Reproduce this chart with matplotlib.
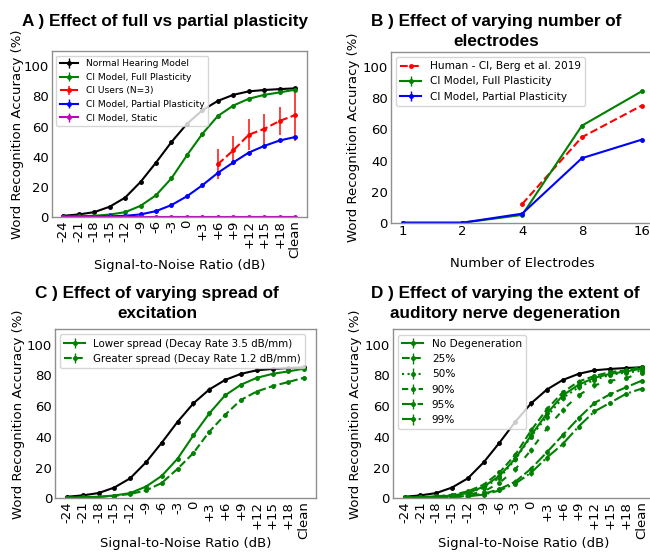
import numpy as np
import matplotlib
matplotlib.use("Agg")
import matplotlib.pyplot as plt

# SNR conditions used in panels A, C, D
snr_labels = ["-24", "-21", "-18", "-15", "-12", "-9", "-6", "-3", "0",
              "+3", "+6", "+9", "+12", "+15", "+18", "Clean"]

nh_model = [1.0, 1.9, 3.4, 7.0, 13.0, 23.4, 36.2, 49.8, 61.8, 70.8, 77.0, 81.0, 83.3, 84.2, 84.8, 85.3]
full_plast = [0.5, 0.7, 1.0, 1.8, 3.4, 7.6, 14.6, 25.8, 41.0, 55.2, 67.0, 73.9, 78.4, 81.0, 82.6, 84.4]
partial_plast = [0.2, 0.3, 0.4, 0.6, 1.0, 1.9, 4.1, 8.1, 13.9, 21.2, 29.4, 36.3, 42.8, 47.2, 50.8, 53.1]
static_model = [0.0, 0.0, 0.0, 0.0, 0.0, 0.0, 0.0, 0.0, 0.0, 0.0, 0.0, 0.0, 0.0, 0.0, 0.0, 0.0]
static_err = [0.1, 0.1, 0.1, 0.1, 0.1, 0.1, 0.1, 0.1, 0.1, 0.1, 0.1, 0.1, 0.1, 0.1, 0.1, 0.1]
model_err = [0.2, 0.3, 0.4, 0.5, 0.6, 0.8, 1.0, 1.2, 1.4, 1.4, 1.3, 1.2, 1.1, 1.0, 0.9, 0.9]

ci_users_snr = ["+6", "+9", "+12", "+15", "+18", "Clean"]
ci_users = [35.1, 44.3, 54.6, 58.5, 63.7, 67.6]
ci_users_err = [10.0, 9.8, 10.2, 9.9, 9.5, 17.0]

# panel B
electrodes = ["1", "2", "4", "8", "16"]
human_berg = [np.nan, np.nan, 12.0, 55.0, 75.3]
full_elec = [0.0, 0.0, 5.0, 62.4, 84.5]
partial_elec = [0.0, 0.0, 5.8, 41.5, 53.4]
elec_err = [0.1, 0.1, 0.6, 1.0, 1.0]

# panel C
greater_spread = [0.4, 0.6, 0.9, 1.6, 2.8, 5.1, 10.0, 19.2, 29.5, 43.3, 54.3, 64.0, 69.5, 73.0, 75.7, 78.5]

# panel D
deg_levels = ["25%", "50%", "90%", "95%", "99%"]
deg25 = [0.6, 0.8, 1.2, 2.3, 4.5, 8.9, 16.8, 28.3, 44.2, 58.0, 69.0, 76.0, 79.6, 82.2, 83.3, 85.6]
deg50 = [0.5, 0.7, 1.0, 1.7, 3.3, 7.0, 13.3, 25.3, 40.2, 53.2, 65.3, 72.2, 77.1, 80.4, 81.8, 83.0]
deg90 = [0.4, 0.5, 0.8, 1.3, 2.4, 4.4, 10.0, 18.9, 31.5, 45.5, 57.5, 67.0, 73.5, 76.5, 78.2, 81.8]
deg95 = [0.3, 0.4, 0.6, 0.9, 1.6, 2.9, 6.0, 10.8, 19.3, 30.0, 41.1, 52.2, 62.0, 67.8, 72.2, 76.6]
deg99 = [0.3, 0.3, 0.5, 0.8, 1.3, 2.4, 5.1, 9.5, 16.7, 26.5, 35.3, 46.7, 56.5, 62.2, 68.0, 71.4]
deg_err = [0.2, 0.3, 0.4, 0.5, 0.7, 0.9, 1.3, 1.6, 1.9, 2.0, 1.8, 1.6, 1.4, 1.2, 1.1, 1.0]
deg_styles = ["--", ":", (0, (3, 5)), (0, (6, 1.5)), "-."]

plt.rcParams["font.family"] = "DejaVu Sans"

W, H = 650, 554
fig = plt.figure(figsize=(W / 100, H / 100), dpi=100)


def px_axes(left, top, right, bottom):
    return fig.add_axes([left / W, 1 - bottom / H, (right - left) / W, (bottom - top) / H])


def style_axes(ax, ylab_x, xlab_y):
    for s in ax.spines.values():
        s.set_color("#8f8f8f")
        s.set_linewidth(1.0)
    ax.tick_params(length=0, pad=2, labelsize=9.5)
    ax.set_ylim(0, 110)
    ax.set_yticks([0, 20, 40, 60, 80, 100])
    ax.set_ylabel("Word Recognition Accuracy (%)", fontsize=9.5)
    ax.yaxis.set_label_coords(ylab_x, 0.5)
    ax.xaxis.set_label_coords(0.5, xlab_y)


def title(x, y, text):
    fig.text(x / W, 1 - y / H, text, ha="center", va="baseline",
             fontsize=12.3, fontweight="bold", family="Liberation Sans")


kw = dict(marker=".", markersize=5, lw=1.5, elinewidth=1, capsize=0)
x = np.arange(len(snr_labels))

# A
axA = px_axes(51.7, 51, 306.7, 217.3)
axA.errorbar(x, nh_model, yerr=model_err, color="k", label="Normal Hearing Model", **kw)
axA.errorbar(x, full_plast, yerr=model_err, color="g", label="CI Model, Full Plasticity", **kw)
xu = [snr_labels.index(s) for s in ci_users_snr]
axA.errorbar(xu, ci_users, yerr=ci_users_err, color="r", ls="--", ecolor=(1, 0, 0, 0.75),
             label="CI Users (N=3)", marker=".", markersize=5, lw=1.5, elinewidth=1.4, capsize=0)
axA.errorbar(x, partial_plast, yerr=model_err, color="b", label="CI Model, Partial Plasticity", **kw)
axA.errorbar(x, static_model, yerr=static_err, color="m", label="CI Model, Static", **kw)
axA.set_xticks(x)
axA.set_xticklabels(snr_labels, rotation=90)
axA.set_xlabel("Signal-to-Noise Ratio (dB)", fontsize=9.5)
style_axes(axA, -0.11, -0.25)
axA.legend(loc="upper left", fontsize=6.6)
title(164.5, 26, "A ) Effect of full vs partial plasticity")

# B
axB = px_axes(390.7, 51.7, 653.6, 222.7)
xb = np.arange(len(electrodes))
axB.plot(xb, human_berg, color="r", ls="--", marker=".", markersize=5, lw=1.5,
         label="Human - CI, Berg et al. 2019")
axB.errorbar(xb, full_elec, yerr=elec_err, color="g", label="CI Model, Full Plasticity", **kw)
axB.errorbar(xb, partial_elec, yerr=elec_err, color="b", label="CI Model, Partial Plasticity", **kw)
axB.set_xticks(xb)
axB.set_xticklabels(electrodes)
axB.set_xlabel("Number of Electrodes", fontsize=9.5)
style_axes(axB, -0.117, -0.2)
axB.legend(loc="upper left", fontsize=7.6)
title(496, 26, "B ) Effect of varying number of")
title(496, 46, "electrodes")

# C
axC = px_axes(55, 329.3, 316, 498.3)
axC.errorbar(x, nh_model, yerr=model_err, color="k", **kw)
axC.errorbar(x, full_plast, yerr=model_err, color="g", label="Lower spread (Decay Rate 3.5 dB/mm)", **kw)
axC.errorbar(x, greater_spread, yerr=model_err, color="g", ls="--",
             label="Greater spread (Decay Rate 1.2 dB/mm)", **kw)
axC.set_xticks(x)
axC.set_xticklabels(snr_labels, rotation=90)
axC.set_xlabel("Signal-to-Noise Ratio (dB)", fontsize=9.5)
style_axes(axC, -0.115, -0.23)
axC.legend(loc="upper left", fontsize=7.4)
title(157, 298.3, "C ) Effect of varying spread of")
title(157, 318.3, "excitation")

# D
axD = px_axes(392.7, 329.3, 653.7, 498.3)
axD.errorbar(x, nh_model, yerr=model_err, color="k", **kw)
axD.errorbar(x, full_plast, yerr=deg_err, color="g", label="No Degeneration", **kw)
for lab, vals, ls in zip(deg_levels, [deg25, deg50, deg90, deg95, deg99], deg_styles):
    axD.errorbar(x, vals, yerr=deg_err, color="g", ls=ls, label=lab, **kw)
axD.set_xticks(x)
axD.set_xticklabels(snr_labels, rotation=90)
axD.set_xlabel("Signal-to-Noise Ratio (dB)", fontsize=9.5)
style_axes(axD, -0.119, -0.23)
axD.legend(loc="upper left", fontsize=7.6)
title(505, 298.3, "D ) Effect of varying the extent of")
title(505, 318.3, "auditory nerve degeneration")

fig.savefig("out.png", dpi=100)
